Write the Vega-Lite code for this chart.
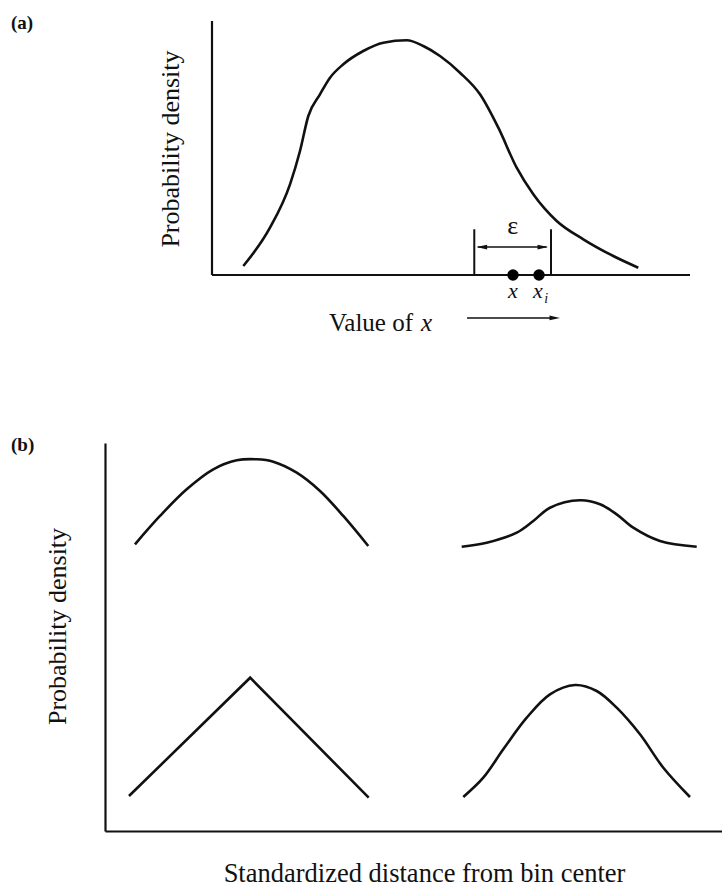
{
  "$schema": "https://vega.github.io/schema/vega-lite/v6.json",
  "padding": {"left": 11, "top": 13, "right": 0, "bottom": 0},
  "background": "white",
  "columns": 1,
  "align": "none",
  "spacing": 100,
  "config": {
    "view": {"stroke": null},
    "axis": {
      "domainColor": "#111111",
      "domainWidth": 2.2,
      "ticks": false,
      "labels": false,
      "grid": false,
      "titleFont": "Liberation Serif",
      "titleFontSize": 26,
      "titleFontWeight": "normal",
      "titleColor": "#111111"
    },
    "text": {"font": "Liberation Serif", "color": "#111111"}
  },
  "datasets": {
    "curveA": [
      {"u": 0.655, "v": 0.354}, {"u": 1.213, "v": 1.862}, {"u": 1.632, "v": 3.571},
      {"u": 1.841, "v": 4.882}, {"u": 2.015, "v": 6.26}, {"u": 2.259, "v": 7.114},
      {"u": 2.469, "v": 7.768}, {"u": 2.747, "v": 8.295}, {"u": 3.165, "v": 8.819},
      {"u": 3.584, "v": 9.146}, {"u": 4.073, "v": 9.24}, {"u": 4.42, "v": 9.016},
      {"u": 4.77, "v": 8.622}, {"u": 5.188, "v": 7.965}, {"u": 5.607, "v": 7.114},
      {"u": 5.99, "v": 5.799}, {"u": 6.374, "v": 4.224}, {"u": 6.722, "v": 3.177},
      {"u": 7.211, "v": 2.126}, {"u": 7.768, "v": 1.406}, {"u": 8.395, "v": 0.748},
      {"u": 8.918, "v": 0.287}
    ],
    "curvesB": [
      {"curve": "wide", "u": 0.486, "v": 7.389}, {"curve": "wide", "u": 0.891, "v": 8.119},
      {"curve": "wide", "u": 1.324, "v": 8.807}, {"curve": "wide", "u": 1.755, "v": 9.322},
      {"curve": "wide", "u": 2.134, "v": 9.554}, {"curve": "wide", "u": 2.459, "v": 9.58},
      {"curve": "wide", "u": 2.728, "v": 9.518}, {"curve": "wide", "u": 3.107, "v": 9.235},
      {"curve": "wide", "u": 3.485, "v": 8.763}, {"curve": "wide", "u": 3.862, "v": 8.119},
      {"curve": "wide", "u": 4.267, "v": 7.345},
      {"curve": "flat", "u": 5.781, "v": 7.327}, {"curve": "flat", "u": 6.186, "v": 7.43},
      {"curve": "flat", "u": 6.673, "v": 7.688}, {"curve": "flat", "u": 6.942, "v": 7.99},
      {"curve": "flat", "u": 7.212, "v": 8.332}, {"curve": "flat", "u": 7.699, "v": 8.523},
      {"curve": "flat", "u": 8.023, "v": 8.42}, {"curve": "flat", "u": 8.293, "v": 8.162},
      {"curve": "flat", "u": 8.562, "v": 7.817}, {"curve": "flat", "u": 8.995, "v": 7.474},
      {"curve": "flat", "u": 9.59, "v": 7.327},
      {"curve": "bell", "u": 5.807, "v": 0.876}, {"curve": "bell", "u": 6.131, "v": 1.374},
      {"curve": "bell", "u": 6.455, "v": 2.106}, {"curve": "bell", "u": 6.835, "v": 2.92},
      {"curve": "bell", "u": 7.212, "v": 3.523}, {"curve": "bell", "u": 7.618, "v": 3.763},
      {"curve": "bell", "u": 7.969, "v": 3.608}, {"curve": "bell", "u": 8.293, "v": 3.178},
      {"curve": "bell", "u": 8.671, "v": 2.492}, {"curve": "bell", "u": 9.049, "v": 1.631},
      {"curve": "bell", "u": 9.481, "v": 0.876}
    ],
    "triangleB": [
      {"u": 0.389, "v": 0.902}, {"u": 2.353, "v": 3.951}, {"u": 4.274, "v": 0.859}
    ]
  },
  "concat": [
    {
      "width": 585,
      "height": 254,
      "encoding": {
        "x": {"type": "quantitative", "scale": {"domain": [-2.2385, 10], "nice": false, "zero": false}, "axis": null},
        "y": {"type": "quantitative", "scale": {"domain": [0, 10], "nice": false, "zero": false}, "axis": null}
      },
      "layer": [
        {
          "data": {"values": [{"u0": 0, "u1": 0, "v0": 0, "v1": 10}, {"u0": 0, "u1": 10, "v0": 0, "v1": 0}]},
          "mark": {"type": "rule", "color": "#111111", "strokeWidth": 2.2},
          "encoding": {
            "x": {"field": "u0", "type": "quantitative"},
            "x2": {"field": "u1"},
            "y": {"field": "v0", "type": "quantitative"},
            "y2": {"field": "v1"}
          }
        },
        {
          "data": {"name": "curveA"},
          "mark": {"type": "line", "interpolate": "monotone", "color": "#111111", "strokeWidth": 2.6},
          "encoding": {
            "x": {"field": "u", "type": "quantitative"},
            "y": {"field": "v", "type": "quantitative"}
          }
        },
        {
          "data": {"values": [{"u": 5.487, "v0": 0, "v1": 1.8}, {"u": 7.092, "v0": 0, "v1": 1.8}]},
          "mark": {"type": "rule", "color": "#111111", "strokeWidth": 2},
          "encoding": {
            "x": {"field": "u", "type": "quantitative"},
            "y": {"field": "v0", "type": "quantitative"},
            "y2": {"field": "v1"}
          }
        },
        {
          "data": {"values": [{"u0": 5.56, "u1": 7.0, "v": 1.1}, {"u0": 5.335, "u1": 7.15, "v": -1.69}]},
          "mark": {"type": "rule", "color": "#111111", "strokeWidth": 1.5},
          "encoding": {
            "x": {"field": "u0", "type": "quantitative"},
            "x2": {"field": "u1"},
            "y": {"field": "v", "type": "quantitative"}
          }
        },
        {
          "data": {"values": [{"u": 5.646, "v": 1.1, "dir": "left"}, {"u": 6.92, "v": 1.1, "dir": "right"}, {"u": 7.17, "v": -1.69, "dir": "right"}]},
          "mark": {"type": "point", "filled": true, "color": "#111111", "opacity": 1, "size": 110},
          "encoding": {
            "x": {"field": "u", "type": "quantitative"},
            "y": {"field": "v", "type": "quantitative"},
            "shape": {"field": "dir", "type": "nominal", "legend": null, "scale": {"domain": ["left", "right"], "range": ["M1,-0.45L-1,0L1,0.45Z", "M-1,-0.45L1,0L-1,0.45Z"]}}
          }
        },
        {
          "data": {"values": [{"u": 6.297, "v": 0}, {"u": 6.841, "v": 0}]},
          "mark": {"type": "point", "filled": true, "color": "#000000", "opacity": 1, "size": 130, "shape": "circle"},
          "encoding": {
            "x": {"field": "u", "type": "quantitative"},
            "y": {"field": "v", "type": "quantitative"}
          }
        },
        {
          "data": {"values": [{"u": 6.29, "v": 1.61, "label": "ε"}]},
          "mark": {"type": "text", "fontSize": 26, "align": "center", "baseline": "alphabetic"},
          "encoding": {
            "x": {"field": "u", "type": "quantitative"},
            "y": {"field": "v", "type": "quantitative"},
            "text": {"field": "label"}
          }
        },
        {
          "data": {"values": [{"u": 6.297, "v": -0.906, "label": "x"}, {"u": 6.82, "v": -0.906, "label": "x"}]},
          "mark": {"type": "text", "fontSize": 22, "fontStyle": "italic", "align": "center", "baseline": "alphabetic"},
          "encoding": {
            "x": {"field": "u", "type": "quantitative"},
            "y": {"field": "v", "type": "quantitative"},
            "text": {"field": "label"}
          }
        },
        {
          "data": {"values": [{"u": 6.99, "v": -1.1, "label": "i"}]},
          "mark": {"type": "text", "fontSize": 14, "fontStyle": "italic", "align": "center", "baseline": "alphabetic"},
          "encoding": {
            "x": {"field": "u", "type": "quantitative"},
            "y": {"field": "v", "type": "quantitative"},
            "text": {"field": "label"}
          }
        },
        {
          "data": {"values": [{"u": 4.205, "v": -2.2, "label": "Value of"}]},
          "mark": {"type": "text", "fontSize": 25, "align": "right", "baseline": "alphabetic"},
          "encoding": {
            "x": {"field": "u", "type": "quantitative"},
            "y": {"field": "v", "type": "quantitative"},
            "text": {"field": "label"}
          }
        },
        {
          "data": {"values": [{"u": 4.37, "v": -2.2, "label": "x"}]},
          "mark": {"type": "text", "fontSize": 25, "fontStyle": "italic", "align": "left", "baseline": "alphabetic"},
          "encoding": {
            "x": {"field": "u", "type": "quantitative"},
            "y": {"field": "v", "type": "quantitative"},
            "text": {"field": "label"}
          }
        },
        {
          "data": {"values": [{"u": -0.858, "v": 4.96, "label": "Probability density"}]},
          "mark": {"type": "text", "fontSize": 26, "angle": 270, "align": "center", "baseline": "middle"},
          "encoding": {
            "x": {"field": "u", "type": "quantitative"},
            "y": {"field": "v", "type": "quantitative"},
            "text": {"field": "label"}
          }
        },
        {
          "data": {"values": [{"u": -4.205, "v": 9.69, "label": "(a)"}]},
          "mark": {"type": "text", "fontSize": 19, "fontWeight": "bold", "align": "left", "baseline": "alphabetic"},
          "encoding": {
            "x": {"field": "u", "type": "quantitative"},
            "y": {"field": "v", "type": "quantitative"},
            "text": {"field": "label"}
          }
        }
      ]
    },
    {
      "width": 617,
      "height": 388,
      "layer": [
        {
          "data": {"name": "curvesB"},
          "mark": {"type": "line", "interpolate": "catmull-rom", "color": "#111111", "strokeWidth": 2.6},
          "encoding": {
            "x": {"field": "u", "type": "quantitative", "scale": {"domain": [0, 10], "nice": false, "zero": false}, "axis": {"title": "Standardized distance from bin center", "titlePadding": 29, "titleX": 319, "titleFontSize": 26.5}},
            "y": {"field": "v", "type": "quantitative", "scale": {"domain": [0, 10], "nice": false, "zero": false}, "axis": {"title": "Probability density", "titlePadding": 35, "titleY": 183}},
            "detail": {"field": "curve", "type": "nominal"}
          }
        },
        {
          "data": {"name": "triangleB"},
          "mark": {"type": "line", "interpolate": "linear", "color": "#111111", "strokeWidth": 2.6},
          "encoding": {
            "x": {"field": "u", "type": "quantitative", "scale": {"domain": [0, 10]}},
            "y": {"field": "v", "type": "quantitative", "scale": {"domain": [0, 10]}}
          }
        },
        {
          "data": {"values": [{"u": -1.523, "v": 9.79, "label": "(b)"}]},
          "mark": {"type": "text", "fontSize": 19, "fontWeight": "bold", "align": "left", "baseline": "alphabetic"},
          "encoding": {
            "x": {"field": "u", "type": "quantitative", "scale": {"domain": [0, 10]}},
            "y": {"field": "v", "type": "quantitative", "scale": {"domain": [0, 10]}},
            "text": {"field": "label"}
          }
        }
      ]
    }
  ]
}
